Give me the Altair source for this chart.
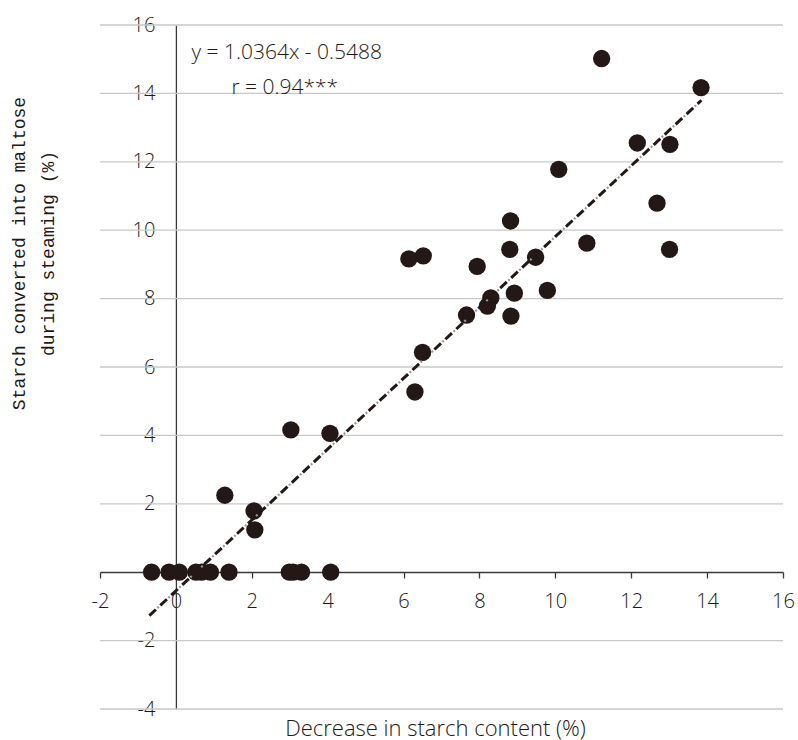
import altair as alt
import pandas as pd

# Scatter data
x_vals = [11.22, 13.84, 12.16, 13.02, 10.09, 12.68, 8.82, 8.80, 10.83, 13.01,
          6.14, 6.52, 9.48, 7.94, 8.30, 8.21, 8.92, 9.79, 7.66, 8.83,
          6.50, 6.30, 3.03, 4.06, 1.29, 2.06, 2.08,
          -0.64, -0.18, 0.09, 0.53, 0.68, 0.91, 1.40, 2.99, 3.09, 3.31, 4.08]
y_vals = [15.02, 14.17, 12.55, 12.51, 11.78, 10.79, 10.27, 9.44, 9.62, 9.44,
          9.16, 9.25, 9.21, 8.94, 8.02, 7.78, 8.16, 8.24, 7.52, 7.49,
          6.43, 5.27, 4.16, 4.06, 2.25, 1.79, 1.24,
          0, 0, 0, 0, 0, 0, 0, 0, 0, 0, 0]

# Trend line end points
trend_x = [-0.70, 13.85]
trend_y = [-1.27, 13.80]

# Tick values
x_ticks = [-2, 0, 2, 4, 6, 8, 10, 12, 14, 16]
y_ticks = [-4, -2, 0, 2, 4, 6, 8, 10, 12, 14, 16]
grid_vals = [-4, -2, 2, 4, 6, 8, 10, 12, 14, 16]

# Annotation
ann_text = ["y = 1.0364x - 0.5488", "r = 0.94***"]
ann_x = [2.92, 2.87]
ann_y = [15.18, 14.15]

pts = pd.DataFrame({"x": x_vals, "y": y_vals})
trend = pd.DataFrame({"x": trend_x, "y": trend_y})
grid = pd.DataFrame({"g": grid_vals})
ann = pd.DataFrame({"t": ann_text, "x": ann_x, "y": ann_y})

FONT = "Open Sans"
TXT = "#231815"

xscale = alt.Scale(domain=[-2, 16], nice=False, zero=False)
yscale = alt.Scale(domain=[-4, 16], nice=False, zero=False)

xaxis = alt.Axis(
    values=x_ticks, orient="bottom", offset=-137, grid=False,
    domainColor="#3a3a3a", domainWidth=1.3, tickColor="#3a3a3a", tickWidth=1.3,
    tickSize=6, labelPadding=13, labelFont=FONT, labelFontSize=20,
    labelFontWeight=300, labelColor=TXT, labelFlush=False, labelOverlap=False,
    labelExpr="toString(datum.value)",
    title="Decrease in starch content (%)", titleFont=FONT, titleFontSize=22,
    titleFontWeight=300, titleColor=TXT, titleX=335, titleY=156,
    titleBaseline="middle", titleAlign="center", titleAnchor="middle",
)
yaxis = alt.Axis(
    values=y_ticks, orient="left", offset=-75.9, grid=False, ticks=False,
    domainColor="#3a3a3a", domainWidth=1.3, labelPadding=21, labelFont=FONT,
    labelFontSize=20, labelFontWeight=300, labelColor=TXT, labelFlush=False,
    labelOverlap=False, labelBaseline="middle",
    labelExpr="toString(datum.value)",
    title=["Starch converted into maltose", "during steaming (%)"],
    titleFont="Liberation Mono", titleFontSize=18, titleFontWeight="normal",
    titleColor=TXT, titleAngle=-90, titleX=-156, titleY=228,
    titleBaseline="middle", titleAlign="center", titleLineHeight=29,
)

base_grid = alt.Chart(grid).mark_rule(color="#c8c8c8", strokeWidth=1.3).encode(
    y=alt.Y("g:Q", scale=yscale, axis=yaxis)
)

points = alt.Chart(pts).mark_circle(size=300, color=TXT, opacity=1).encode(
    x=alt.X("x:Q", scale=xscale, axis=xaxis),
    y=alt.Y("y:Q", scale=yscale, axis=yaxis),
)

trend_dash = alt.Chart(trend).mark_line(
    color=TXT, strokeWidth=3, strokeDash=[9, 6]
).encode(x=alt.X("x:Q", scale=xscale), y=alt.Y("y:Q", scale=yscale))

trend_dot = alt.Chart(trend).mark_line(
    color="#9a9a9a", strokeWidth=2.2, strokeDash=[2, 13], strokeDashOffset=4
).encode(x=alt.X("x:Q", scale=xscale), y=alt.Y("y:Q", scale=yscale))

texts = alt.Chart(ann).mark_text(
    font=FONT, fontSize=21, fontWeight=300, color=TXT, align="center",
    baseline="middle"
).encode(x=alt.X("x:Q", scale=xscale), y=alt.Y("y:Q", scale=yscale), text="t:N")

chart = alt.layer(base_grid, points, trend_dash, trend_dot, texts).properties(
    width=683, height=684,
    background="white",
    autosize=alt.AutoSizeParams(type="none"),
    padding={"left": 100, "top": 25, "right": 15, "bottom": 31},
).configure_view(stroke=None, strokeWidth=0)

chart.save("out.html", embed_options={"renderer": "svg", "actions": False})
